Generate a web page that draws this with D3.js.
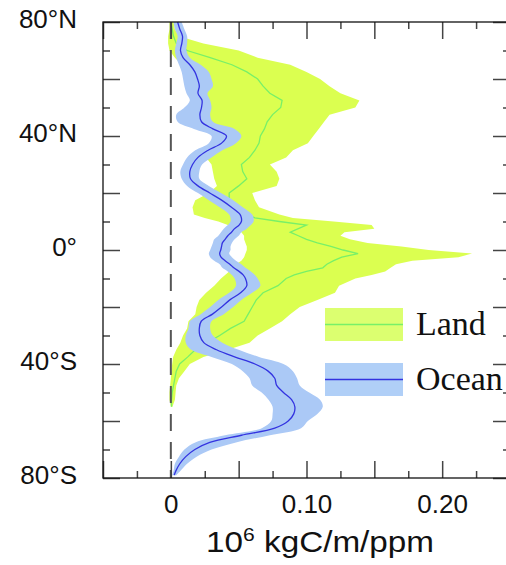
<!DOCTYPE html>
<html>
<head>
<meta charset="utf-8">
<script src="https://cdn.jsdelivr.net/npm/d3@7"></script>
<style>
  body { margin: 0; background: #fff; }
  svg { display: block; }
</style>
</head>
<body>
<div id="chart"></div>
<script>
// latitude of each sample (deg, + = north)
const lats = [80, 77.5, 75, 72.5, 70, 67.5, 65, 62.5, 60, 57.5, 55, 52.5, 50, 47.5, 45, 42.5, 40, 37.5, 35, 32.5,
  30, 27.5, 25, 22.5, 20, 17.5, 15, 12.5, 11.25, 10, 8.75, 7.5, 6.25, 5, 3.75, 2.5, 1.25, 0,
  -1.25, -2.5, -3.75, -5, -6.25, -7.5, -8.75, -10, -12.5, -15, -17.5, -20, -22.5, -25, -27.5, -30,
  -32.5, -35, -37.5, -40, -42.5, -45, -47.5, -50, -52.5, -55, -57.5, -60, -62.5, -65, -67.5, -70,
  -72.5, -75, -77.5, -79];

// land: median and range (null = no land)
const landMid = [0, 0.001, 0.002, 0.004, 0.012, 0.029, 0.045, 0.056, 0.064, 0.068, 0.073, 0.082, 0.081, 0.075, 0.071, 0.069, 0.066, 0.065, 0.062, 0.058,
  0.052, 0.053, 0.056, 0.050, 0.043, 0.043, 0.048, 0.056, 0.062, 0.080, 0.100, 0.094, 0.088, 0.094, 0.100, 0.108, 0.118, 0.127,
  0.138, 0.126, 0.120, 0.115, 0.112, 0.100, 0.091, 0.085, 0.079, 0.068, 0.063, 0.060, 0.057, 0.054, 0.044, 0.036,
  0.027, 0.018, 0.0125, 0.0065, 0.004, 0.003, 0.002, 0.001, 0.0005, 0.0005, null, null, null, null, null, null,
  null, null, null, null];
const landLo = [-0.001, -0.001, -0.002, -0.002, -0.001, 0.003, 0.008, 0.012, 0.016, 0.018, 0.020, 0.024, 0.026, 0.028, 0.028, 0.030, 0.031, 0.030, 0.026, 0.026,
  0.030, 0.031, 0.032, 0.034, 0.028, 0.018, 0.016, 0.017, 0.025, 0.035, 0.042, 0.048, 0.052, 0.054, 0.054, 0.055, 0.056, 0.056,
  0.055, 0.054, 0.052, 0.048, 0.045, 0.043, 0.040, 0.037, 0.032, 0.026, 0.021, 0.019, 0.018, 0.013, 0.012, 0.009,
  0.007, 0.004, 0.0017, 0.001, 0.0005, 0, -0.0005, -0.001, -0.001, 0, null, null, null, null, null, null,
  null, null, null, null];
const landHi = [0.002, 0.003, 0.006, 0.024, 0.050, 0.064, 0.088, 0.100, 0.110, 0.117, 0.125, 0.139, 0.136, 0.117, 0.113, 0.109, 0.105, 0.101, 0.090, 0.085,
  0.073, 0.078, 0.080, 0.078, 0.060, 0.062, 0.065, 0.080, 0.090, 0.120, 0.148, 0.150, 0.128, 0.125, 0.132, 0.145, 0.170, 0.190,
  0.222, 0.212, 0.178, 0.166, 0.162, 0.158, 0.148, 0.136, 0.124, 0.121, 0.108, 0.095, 0.088, 0.082, 0.073, 0.064,
  0.058, 0.042, 0.024, 0.014, 0.010, 0.006, 0.004, 0.0035, 0.003, 0.0012, null, null, null, null, null, null,
  null, null, null, null];

// ocean: median and range
const oceanMid = [0.005, 0.0066, 0.0086, 0.0081, 0.0071, 0.009, 0.014, 0.0177, 0.0197, 0.021, 0.020, 0.023, 0.0226, 0.0214, 0.0226, 0.031, 0.041, 0.0374, 0.0275, 0.020,
  0.016, 0.014, 0.0145, 0.020, 0.0287, 0.0374, 0.0447, 0.051, 0.052, 0.052, 0.0503, 0.047, 0.0447, 0.042, 0.040, 0.038, 0.0374, 0.0368,
  0.036, 0.037, 0.040, 0.0435, 0.0464, 0.0503, 0.0533, 0.055, 0.056, 0.0514, 0.0435, 0.0374, 0.0307, 0.0224, 0.021, 0.0214,
  0.0243, 0.0337, 0.047, 0.062, 0.0717, 0.0766, 0.078, 0.083, 0.089, 0.0914, 0.0906, 0.0865, 0.0766, 0.052, 0.0287, 0.0177,
  0.011, 0.0066, 0.0037, 0.0025];
const oceanLo = [0.002, 0.003, 0.005, 0.004, 0.003, 0.004, 0.006, 0.008, 0.009, 0.010, 0.0115, 0.014, 0.010, 0.004, 0.005, 0.017, 0.030, 0.028, 0.018, 0.012,
  0.009, 0.007, 0.008, 0.012, 0.020, 0.028, 0.036, 0.043, 0.044, 0.044, 0.042, 0.039, 0.037, 0.035, 0.032, 0.031, 0.030, 0.029,
  0.028, 0.029, 0.032, 0.036, 0.038, 0.042, 0.045, 0.047, 0.048, 0.043, 0.035, 0.029, 0.022, 0.014, 0.013, 0.011,
  0.011, 0.015, 0.030, 0.045, 0.053, 0.058, 0.060, 0.067, 0.072, 0.075, 0.075, 0.074, 0.067, 0.040, 0.018, 0.010,
  0.006, 0.003, 0.002, 0.001];
const oceanHi = [0.008, 0.010, 0.012, 0.012, 0.0115, 0.014, 0.022, 0.028, 0.030, 0.031, 0.027, 0.029, 0.030, 0.029, 0.031, 0.047, 0.052, 0.048, 0.038, 0.030,
  0.023, 0.021, 0.021, 0.028, 0.037, 0.046, 0.053, 0.060, 0.061, 0.061, 0.059, 0.056, 0.052, 0.050, 0.047, 0.045, 0.044, 0.044,
  0.043, 0.045, 0.048, 0.052, 0.055, 0.059, 0.062, 0.064, 0.066, 0.060, 0.052, 0.046, 0.039, 0.030, 0.029, 0.031,
  0.038, 0.050, 0.065, 0.083, 0.090, 0.093, 0.095, 0.102, 0.110, 0.112, 0.108, 0.101, 0.096, 0.073, 0.048, 0.030,
  0.019, 0.012, 0.007, 0.004];

const xMajor = [-0.05, 0, 0.05, 0.10, 0.15, 0.20, 0.25];
const xMinor = [-0.025, 0.025, 0.075, 0.125, 0.175, 0.225];
const xLabels = [0, 0.10, 0.20];
const yMajor = [80, 60, 40, 20, 0, -20, -40, -60, -80];
const yMinor = [70, 50, 30, 10, -10, -30, -50, -70];
const yLabels = [80, 40, 0, -40, -80];

const width = 506, height = 565;
const mLeft = 103, mRight = 510, mTop = 22, mBottom = 478;

const svg = d3.select('#chart').append('svg')
    .attr('width', width)
    .attr('height', height);

const x = d3.scaleLinear().domain([-0.05, 0.25]).range([mLeft, mRight]);
const y = d3.scaleLinear().domain([-80, 80]).range([mBottom, mTop]);

const land = lats.map((d, i) => ({ lat: d, mid: landMid[i], lo: landLo[i], hi: landHi[i] }));
const ocean = lats.map((d, i) => ({ lat: d, mid: oceanMid[i], lo: oceanLo[i], hi: oceanHi[i] }));

// bands
const band = d3.area()
    .defined(d => d.lo != null)
    .y(d => y(d.lat))
    .x0(d => x(d.lo))
    .x1(d => x(d.hi));
const mid = d3.line()
    .defined(d => d.mid != null)
    .x(d => x(d.mid))
    .y(d => y(d.lat));

svg.append('path').datum(land)
    .attr('d', band)
    .style('fill', '#dbff50');
svg.append('path').datum(land)
    .attr('d', mid)
    .style('fill', 'none')
    .style('stroke', '#78f068')
    .style('stroke-width', 1.3);

svg.append('path').datum(ocean)
    .attr('d', band.curve(d3.curveCatmullRom))
    .style('fill', '#abc9f6');
svg.append('path').datum(ocean)
    .attr('d', mid.curve(d3.curveCatmullRom))
    .style('fill', 'none')
    .style('stroke', '#3333e0')
    .style('stroke-width', 1.3);

// zero line
svg.append('line')
    .attr('x1', x(0)).attr('x2', x(0))
    .attr('y1', mTop).attr('y2', mBottom)
    .style('stroke', '#555')
    .style('stroke-width', 2)
    .style('stroke-dasharray', '17,11');

// ticks, all pointing inward
function ticks(axis, vals, len, tr) {
    const g = svg.append('g')
        .attr('transform', tr)
        .call(axis.tickValues(vals).tickSize(-len).tickFormat(''));
    g.select('.domain').remove();
    g.selectAll('line').style('stroke', '#444').style('stroke-width', 1.5);
}
ticks(d3.axisBottom(x), xMajor, 17, `translate(0,${mBottom})`);
ticks(d3.axisBottom(x), xMinor, 7, `translate(0,${mBottom})`);
ticks(d3.axisTop(x), xMajor, 17, `translate(0,${mTop})`);
ticks(d3.axisTop(x), xMinor, 7, `translate(0,${mTop})`);
ticks(d3.axisLeft(y), yMajor, 17, `translate(${mLeft},0)`);
ticks(d3.axisLeft(y), yMinor, 7, `translate(${mLeft},0)`);
ticks(d3.axisRight(y), yMajor, 17, `translate(${mRight},0)`);
ticks(d3.axisRight(y), yMinor, 7, `translate(${mRight},0)`);

// frame
svg.append('rect')
    .attr('x', mLeft).attr('y', mTop)
    .attr('width', mRight - mLeft).attr('height', mBottom - mTop)
    .style('fill', 'none')
    .style('stroke', '#111')
    .style('stroke-width', 1.3);

// tick labels
const font = '"Liberation Sans", Arial, sans-serif';
const xl = svg.append('g')
    .attr('transform', `translate(0,${mBottom})`)
    .call(d3.axisBottom(x).tickValues(xLabels).tickSize(0).tickPadding(17)
        .tickFormat(d => d === 0 ? '0' : d.toFixed(2)));
xl.select('.domain').remove();
xl.selectAll('text').style('font-family', font).style('font-size', '26px').style('fill', '#111');

const yl = svg.append('g')
    .attr('transform', `translate(${mLeft},0)`)
    .call(d3.axisLeft(y).tickValues(yLabels).tickSize(0).tickPadding(26)
        .tickFormat(d => d === 0 ? '0°' : Math.abs(d) + '°' + (d > 0 ? 'N' : 'S')));
yl.select('.domain').remove();
yl.selectAll('text')
    .attr('dy', '0.2em')
    .style('font-family', font).style('font-size', '26px').style('fill', '#111');

// axis title
const title = svg.append('text')
    .attr('x', x(0.11))
    .attr('y', 552)
    .attr('text-anchor', 'middle')
    .attr('textLength', 228)
    .attr('lengthAdjust', 'spacingAndGlyphs')
    .style('font-family', font)
    .style('font-size', '30px')
    .style('fill', '#111');
title.append('tspan').text('10');
title.append('tspan').attr('dy', -11).style('font-size', '19px').text('6');
title.append('tspan').attr('dy', 11).text(' kgC/m/ppm');

// legend
const legend = [
    { name: 'Land', fill: '#dcff70', stroke: '#78f068' },
    { name: 'Ocean', fill: '#b0cff7', stroke: '#3333e0' }
];
const lg = svg.append('g').attr('transform', 'translate(325,308)');
legend.forEach((d, i) => {
    const g = lg.append('g').attr('transform', `translate(0,${i * 55})`);
    g.append('rect').attr('width', 78).attr('height', 33).style('fill', d.fill);
    g.append('line').attr('x1', 0).attr('x2', 78).attr('y1', 16.5).attr('y2', 16.5)
        .style('stroke', d.stroke).style('stroke-width', 1.3);
    g.append('text').attr('x', 91).attr('y', 27)
        .style('font-family', '"Liberation Serif", "Times New Roman", serif')
        .style('font-size', '34px')
        .style('fill', '#111')
        .text(d.name);
});
</script>
</body>
</html>
